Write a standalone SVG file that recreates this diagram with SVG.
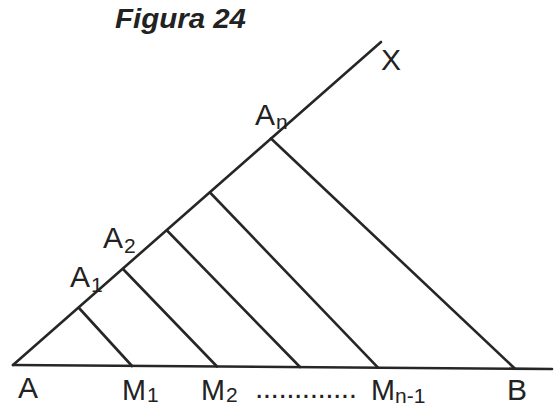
<svg xmlns="http://www.w3.org/2000/svg" width="560" height="406" viewBox="0 0 560 406">
<style>
.ln{stroke:#262626;stroke-width:2.6;stroke-linecap:round;fill:none}
.lb{font-family:"Liberation Sans",Arial,sans-serif;font-size:30px;fill:#222}
.sb{font-family:"Liberation Sans",Arial,sans-serif;font-size:21px;fill:#222}
.tt{font-family:"Liberation Sans",Arial,sans-serif;font-size:28px;font-weight:bold;font-style:italic;fill:#222}
</style>
<rect width="560" height="406" fill="#fff"/>
<g id="title"><text class="tt" x="115" y="28" textLength="131" lengthAdjust="spacingAndGlyphs">Figura 24</text></g>
<g id="connectors">
<line class="ln" x1="13" y1="365" x2="552" y2="369"/>
<line class="ln" x1="13" y1="365" x2="381" y2="42"/>
<line class="ln" x1="79" y1="308" x2="132" y2="366"/>
<line class="ln" x1="123" y1="269" x2="217" y2="366.5"/>
<line class="ln" x1="167" y1="230.5" x2="300" y2="367"/>
<line class="ln" x1="210" y1="192.5" x2="378" y2="367.7"/>
<line class="ln" x1="271" y1="138.5" x2="515" y2="368.7"/>
</g>
<g id="A"><text class="lb" x="18" y="398">A</text></g>
<g id="M1"><text class="lb" x="122" y="400" textLength="24" lengthAdjust="spacingAndGlyphs">M</text><text class="sb" x="147" y="402">1</text></g>
<g id="M2"><text class="lb" x="201" y="400" textLength="24" lengthAdjust="spacingAndGlyphs">M</text><text class="sb" x="226" y="402">2</text></g>
<g id="dots"><text class="lb" x="255" y="398" textLength="102" lengthAdjust="spacing">.............</text></g>
<g id="Mn1"><text class="lb" x="371" y="400" textLength="24" lengthAdjust="spacingAndGlyphs">M</text><text class="sb" x="395" y="403">n-1</text></g>
<g id="B"><text class="lb" x="507" y="400">B</text></g>
<g id="A1"><text class="lb" x="70" y="287">A</text><text class="sb" x="91" y="292">1</text></g>
<g id="A2"><text class="lb" x="103" y="248">A</text><text class="sb" x="124" y="253">2</text></g>
<g id="An"><text class="lb" x="255" y="125">A</text><text class="sb" x="276" y="129">n</text></g>
<g id="X"><text class="lb" x="381" y="70">X</text></g>
</svg>
